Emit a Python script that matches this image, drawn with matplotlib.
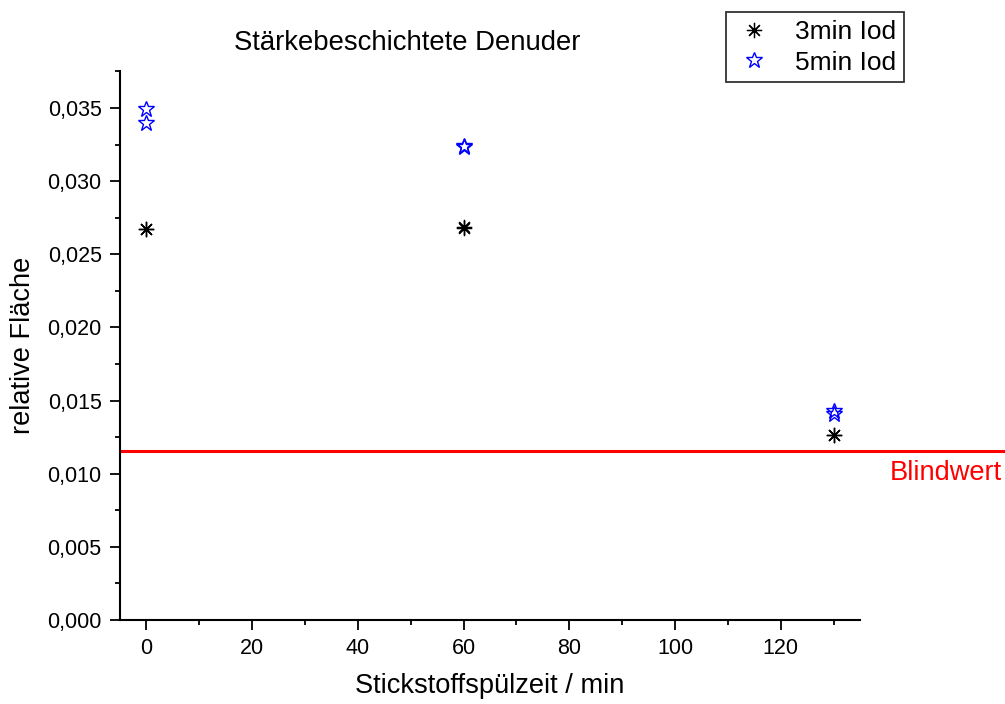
import matplotlib
matplotlib.use("Agg")
import matplotlib.pyplot as plt
from matplotlib.ticker import MultipleLocator, FuncFormatter

# Spülzeit (min) und relative Peakfläche je Iodierungsdauer
zeit_3min = [0, 0, 60, 60, 130, 130]
flaeche_3min = [0.02673, 0.02670, 0.02683, 0.02680, 0.01268, 0.01262]

zeit_5min = [0, 0, 60, 60, 130, 130]
flaeche_5min = [0.03493, 0.03397, 0.03240, 0.03230, 0.01430, 0.01410]

blindwert = 0.01155

plt.rcParams["font.family"] = ["Liberation Sans", "DejaVu Sans"]

fig = plt.figure(figsize=(10.05, 7.04), dpi=100)
ax = fig.add_axes([120 / 1005, 1 - 620 / 704, 740 / 1005, (620 - 71.4) / 704])

ax.plot(zeit_3min, flaeche_3min, linestyle="none", marker=(8, 2, 0),
        markersize=11, color="black", markeredgewidth=0.9, label="3min Iod")
ax.plot(zeit_5min, flaeche_5min, linestyle="none", marker="*",
        markersize=12, markerfacecolor="none", markeredgecolor="blue",
        markeredgewidth=1.0, label="5min Iod")

# Blindwert-Linie reicht über die Achse hinaus bis zum Bildrand
ax.axhline(blindwert, xmin=0, xmax=885 / 740, color="red", linewidth=2.2,
           clip_on=False, zorder=1)
fig.text(1002 / 1005, 1 - 473 / 704, "Blindwert", color="red", fontsize=19.6,
         ha="right", va="center")

ax.set_xlim(-5, 135)
ax.set_ylim(0, 0.0375)

ax.xaxis.set_major_locator(MultipleLocator(20))
ax.xaxis.set_minor_locator(MultipleLocator(10))
ax.yaxis.set_major_locator(MultipleLocator(0.005))
ax.yaxis.set_minor_locator(MultipleLocator(0.0025))
ax.yaxis.set_major_formatter(FuncFormatter(lambda v, p: f"{v:.3f}".replace(".", ",")))

for side in ("top", "right"):
    ax.spines[side].set_visible(False)
for side in ("left", "bottom"):
    ax.spines[side].set_linewidth(1.5)

ax.tick_params(which="major", direction="out", length=7.2, width=1.3,
               labelsize=15.5, pad=6)
ax.tick_params(which="minor", direction="out", length=3.6, width=1.3)

ax.set_xlabel("Stickstoffspülzeit / min", fontsize=19.6, labelpad=10)
ax.set_ylabel("relative Fläche", fontsize=19.6, labelpad=8)

fig.text(407 / 1005, 1 - 43 / 704, "Stärkebeschichtete Denuder", fontsize=19.8,
         ha="center", va="center")

leg = fig.legend(loc="upper left", bbox_to_anchor=(726 / 1005, 1 - 12 / 704),
                 fontsize=19, frameon=True, fancybox=False, borderpad=0.3,
                 handletextpad=0.8, handlelength=1.5, labelspacing=0.25,
                 borderaxespad=0)
leg.get_frame().set_edgecolor("black")
leg.get_frame().set_linewidth(1.3)

fig.savefig("out.png", dpi=100)
